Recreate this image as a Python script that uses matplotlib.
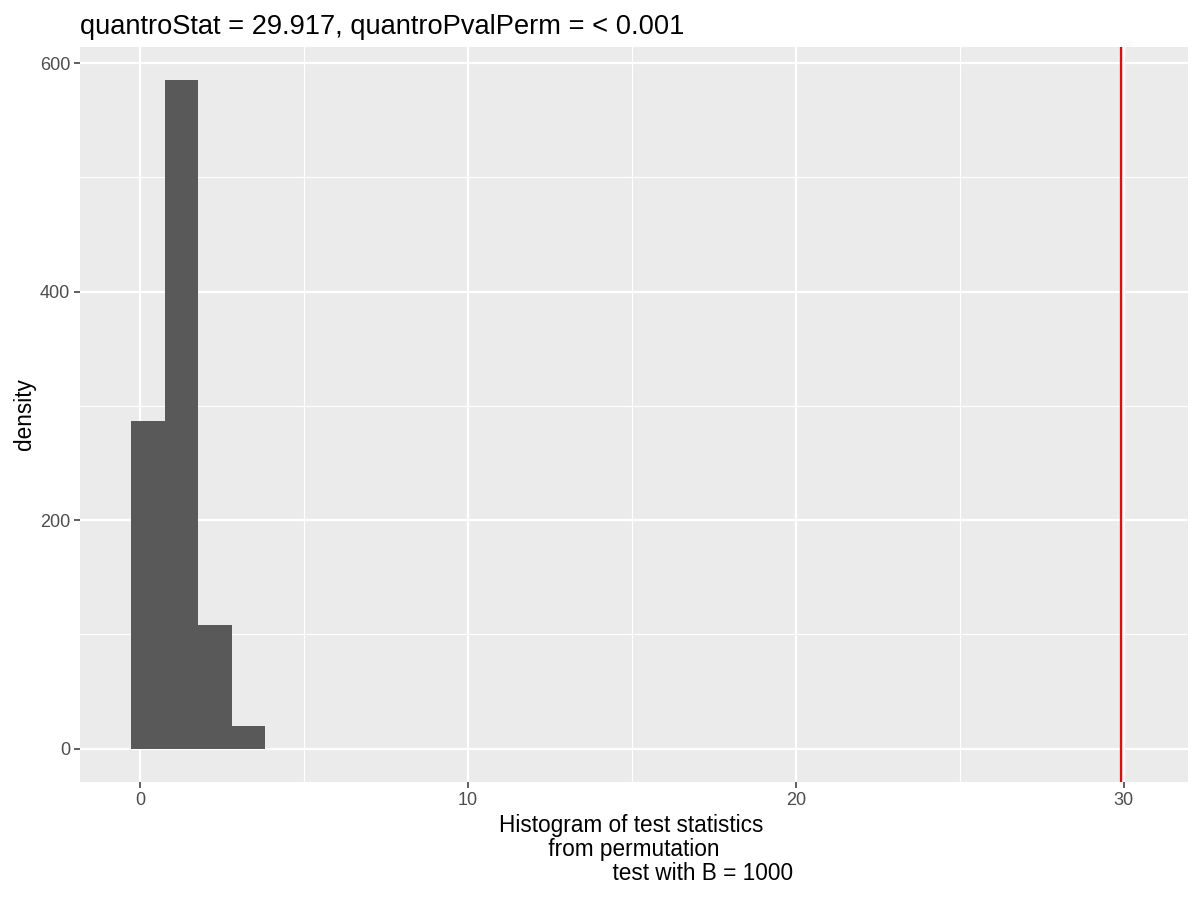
import matplotlib
matplotlib.use("Agg")
import matplotlib.pyplot as plt
import numpy as np

# histogram of permutation test statistics (counts)
bin_edges = [-0.28, 0.742, 1.764, 2.786, 3.808]
bin_counts = [287, 585, 108, 20]
quantro_stat = 29.917
x_ticks = [0, 10, 20, 30]
y_ticks = [0, 200, 400, 600]

plt.rcParams["font.family"] = ["Liberation Sans", "DejaVu Sans"]

fig = plt.figure(figsize=(12, 9), dpi=100)
ax = fig.add_axes([80 / 1200, 1 - 782 / 900, 1108 / 1200, 735 / 900])
ax.set_facecolor("#EBEBEB")

# grid like ggplot theme_gray
for x in [5, 15, 25]:
    ax.axvline(x, color="white", linewidth=0.8, zorder=0)
for y in [100, 300, 500]:
    ax.axhline(y, color="white", linewidth=0.8, zorder=0)
for x in x_ticks:
    ax.axvline(x, color="white", linewidth=1.6, zorder=0)
for y in y_ticks:
    ax.axhline(y, color="white", linewidth=1.6, zorder=0)

widths = np.diff(bin_edges)
ax.bar(bin_edges[:-1], bin_counts, width=widths, align="edge",
       color="#595959", linewidth=0, zorder=2)
ax.axvline(quantro_stat, color="red", linewidth=1.6, zorder=3)

ax.set_xlim(-1.84, 31.96)
ax.set_ylim(-29.25, 614.25)
ax.set_xticks(x_ticks)
ax.set_yticks(y_ticks)
ax.tick_params(axis="both", length=4, width=1.1, color="#333333",
               labelcolor="#4D4D4D", labelsize=13, pad=3)
for side in ax.spines.values():
    side.set_visible(False)

ax.set_title("quantroStat = 29.917, quantroPvalPerm = < 0.001",
             loc="left", fontsize=19.6, pad=9)
ax.set_ylabel("density", fontsize=16.3, labelpad=3)
ax.set_xlabel("Histogram of test statistics \n from permutation \n"
              "                      test with B = 1000",
              fontsize=16.3, linespacing=1.05, labelpad=4)

fig.savefig("out.png", dpi=100)
plt.close(fig)
